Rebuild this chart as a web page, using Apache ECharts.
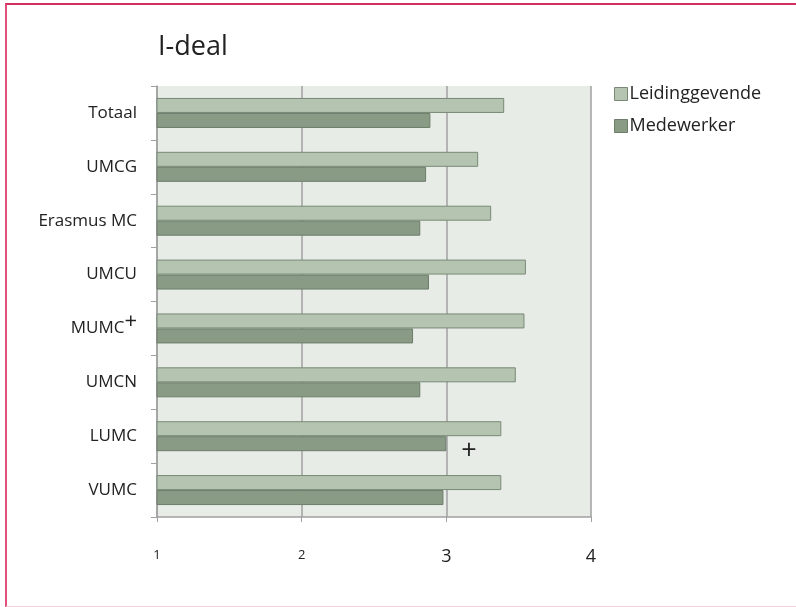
<!DOCTYPE html>
<html>
<head>
<meta charset="utf-8">
<script src="https://cdn.jsdelivr.net/npm/echarts@6/dist/echarts.min.js"></script>
<style>
    html, body { margin: 0; padding: 0; background: #fff; }
    #wrap { position: relative; width: 796px; height: 607px; overflow: hidden; }
    #chart { width: 796px; height: 607px; }
    /* page frame, as in the original report */
    #frame {
        position: absolute; left: 5px; top: 3px; width: 820px; height: 601px;
        border-top: 2px solid #d42f5e; border-left: 2px solid #e0507a;
        border-bottom: 1px solid #f6cfdc; pointer-events: none;
    }
</style>
</head>
<body>
<div id="wrap">
    <div id="chart"></div>
    <div id="frame"></div>
</div>
<script>
// --- Data ---
const categories = ['Totaal', 'UMCG', 'Erasmus MC', 'UMCU', 'MUMC', 'UMCN', 'LUMC', 'VUMC'];
const categorySup = ['', '', '', '', '+', '', '', ''];
const leidinggevende = [3.40, 3.22, 3.31, 3.55, 3.54, 3.48, 3.38, 3.38];
const medewerker = [2.89, 2.86, 2.82, 2.88, 2.77, 2.82, 3.00, 2.98];
const medewerkerMarks = ['', '', '', '', '', '', '+', ''];
const xTicks = [1, 2, 3, 4];

const FONT = '"Open Sans", "Noto Sans", sans-serif';

const chart = echarts.init(document.getElementById('chart'));

const option = {
    animation: false,
    title: {
        text: 'I-deal',
        left: 153,
        top: 29,
        textStyle: { fontFamily: FONT, fontSize: 27, fontWeight: 'normal', color: '#222' }
    },
    legend: {
        orient: 'vertical',
        left: 609,
        top: 80,
        icon: 'rect',
        itemWidth: 13,
        itemHeight: 13,
        itemGap: 14,
        itemStyle: { borderWidth: 1 },
        textStyle: { fontFamily: FONT, fontSize: 18, color: '#222', padding: [0, 0, 0, -3] },
        data: ['Leidinggevende', 'Medewerker']
    },
    grid: {
        left: 157, right: 205, top: 86, bottom: 90,
        show: true, backgroundColor: '#e8ece7', borderWidth: 0
    },
    xAxis: {
        type: 'value',
        min: 1, max: 4, interval: 1,
        axisLine: { show: true, lineStyle: { color: '#a0a0a0', width: 1.5 } },
        axisTick: { show: true, length: 5, lineStyle: { color: '#a0a0a0' } },
        splitLine: { show: true, lineStyle: { color: '#a0a0a0', width: 1.5 } },
        axisLabel: {
            margin: 28,
            fontFamily: FONT,
            color: '#222',
            formatter: v => (xTicks.indexOf(v) >= 2 ? '{b|' + v + '}' : '{s|' + v + '}'),
            rich: {
                s: { fontSize: 13, fontFamily: FONT, color: '#222', padding: [4, 0, 0, 0] },
                b: { fontSize: 18, fontFamily: FONT, color: '#222', padding: [3, 0, 0, 0] }
            }
        }
    },
    yAxis: {
        type: 'category',
        inverse: true,
        data: categories,
        axisLine: { show: true, lineStyle: { color: '#a0a0a0', width: 1.5 } },
        axisTick: { show: true, length: 6, lineStyle: { color: '#a0a0a0' } },
        axisLabel: {
            margin: 20,
            fontFamily: FONT,
            fontSize: 17,
            lineHeight: 36,
            color: '#222',
            formatter: (v, i) => categorySup[i] ? v + '{sup|' + categorySup[i] + '}' : v,
            rich: {
                sup: { fontSize: 22, lineHeight: 22, fontFamily: FONT, color: '#222', verticalAlign: 'top' }
            }
        }
    },
    series: [
        {
            name: 'Leidinggevende',
            type: 'bar',
            data: leidinggevende,
            barWidth: 15,
            barGap: '0%',
            itemStyle: { color: '#b5c4b0', borderColor: '#788a76', borderWidth: 1 }
        },
        {
            name: 'Medewerker',
            type: 'bar',
            data: medewerker.map((v, i) => ({
                value: v,
                label: {
                    show: !!medewerkerMarks[i],
                    position: 'right',
                    distance: 15,
                    offset: [0, 8],
                    formatter: medewerkerMarks[i],
                    fontSize: 27,
                    fontFamily: FONT,
                    color: '#222'
                }
            })),
            barWidth: 15,
            itemStyle: { color: '#899a85', borderColor: '#6c7d6a', borderWidth: 1 }
        }
    ]
};

chart.setOption(option);
</script>
</body>
</html>
